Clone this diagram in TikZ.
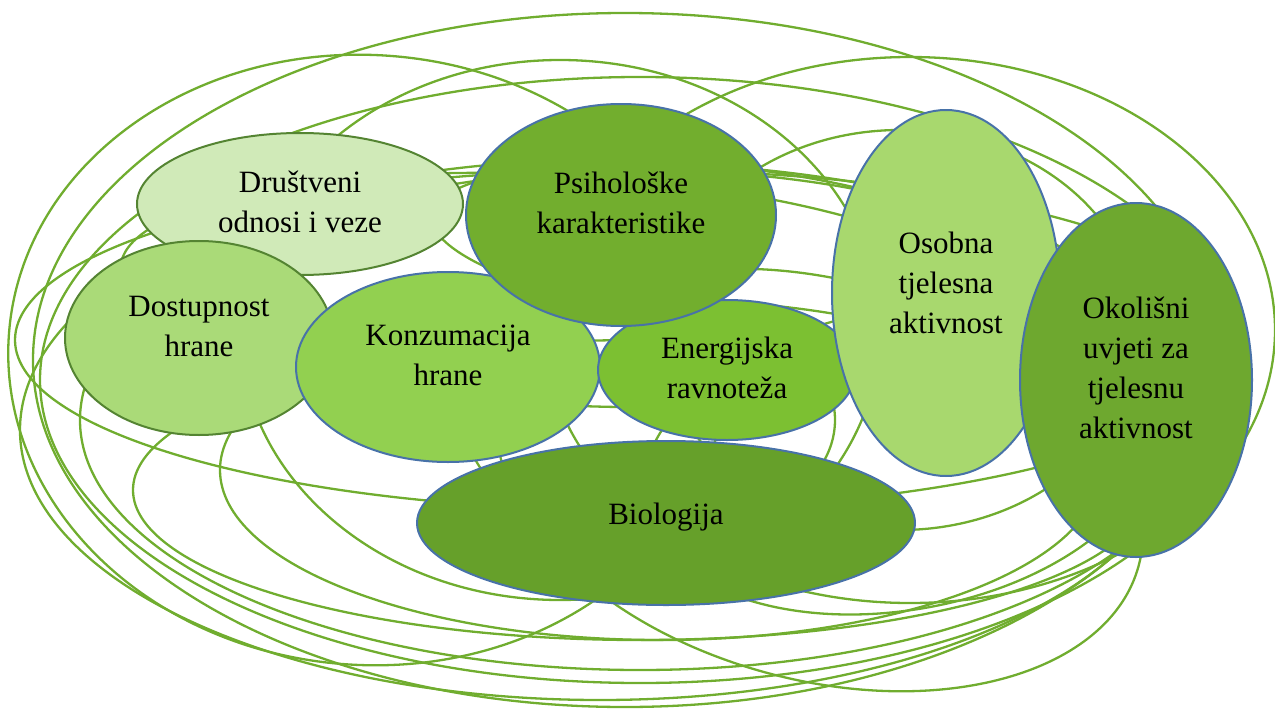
\documentclass[tikz,border=0pt]{standalone}
\usepackage{fontspec}
\setmainfont{Liberation Serif}
\usetikzlibrary{shapes.geometric}
\definecolor{ringgreen}{RGB}{112,173,47}
\definecolor{bluerim}{RGB}{72,114,168}
\definecolor{darkrim}{RGB}{84,132,50}
\definecolor{fillpale}{RGB}{208,234,184}
\definecolor{fillpsi}{RGB}{114,174,46}
\definecolor{filldos}{RGB}{170,218,120}
\definecolor{fillkon}{RGB}{146,208,80}
\definecolor{fillene}{RGB}{124,192,50}
\definecolor{fillos}{RGB}{168,216,110}
\definecolor{fillok}{RGB}{110,168,47}
\definecolor{fillbio}{RGB}{102,160,42}
% text stack, lifted a little above the shape centre
\newcommand{\blobtext}[2][0pt]{\raisebox{#1}[\height][\depth]{\begin{tabular}{@{}c@{}}#2\end{tabular}}}

\begin{document}
\begin{tikzpicture}[x=1pt,y=-1pt,
    ring/.style={draw=ringgreen, line width=2.3pt},
    blob/.style={ellipse, draw=bluerim, line width=2pt, inner sep=0pt,
        font=\fontsize{31}{40}\selectfont}]
    \useasboundingbox (0,0) rectangle (1275,712);
    % background rings
    \foreach \cx/\cy/\rx/\ry/\rot in {
        625/360/592/347/0, 367/360/359/305/-4, 910/330/365/273/0,
        640/380/600/303/0, 560/330/320/270/0, 630/340/615/170/0,
        640/490/507/150/0, 660/470/440/170/0, 640/420/560/250/0,
        600/430/580/270/0, 900/330/240/200/0, 560/290/440/115/-3,
        760/250/330/80/-6, 900/460/260/150/10, 650/420/185/120/0,
        820/480/330/200/-15} {
        \draw[ring] (\cx,\cy) ellipse [x radius=\rx pt, y radius=\ry pt, rotate=\rot];
    }
    % topic ellipses
    \node[blob, fill=fillpale, draw=darkrim, minimum width=326pt, minimum height=142pt]
        (drustveni) at (300,204) {\blobtext{Društveni\\odnosi i veze}};
    \node[blob, fill=filldos, draw=darkrim, minimum width=268pt, minimum height=194pt]
        (dostupnost) at (199,338) {\blobtext[10pt]{Dostupnost\\hrane}};
    \node[blob, fill=fillkon, minimum width=304pt, minimum height=190pt]
        (konzumacija) at (448,367) {\blobtext[10pt]{Konzumacija\\hrane}};
    \node[blob, fill=fillene, minimum width=258pt, minimum height=140pt]
        (energija) at (727,370) {\blobtext{Energijska\\ravnoteža}};
    \node[blob, fill=fillpsi, minimum width=310pt, minimum height=222pt]
        (psiholoske) at (621,215) {\blobtext[10pt]{Psihološke\\karakteristike}};
    \node[blob, fill=fillbio, minimum width=498pt, minimum height=164pt]
        (biologija) at (666,523) {\blobtext[7pt]{Biologija}};
    \node[blob, fill=fillos, minimum width=228pt, minimum height=366pt]
        (osobna) at (946,293) {\blobtext[8pt]{Osobna\\tjelesna\\aktivnost}};
    \node[blob, fill=fillok, minimum width=232pt, minimum height=354pt]
        (okolisni) at (1136,380) {\blobtext[10pt]{Okolišni\\uvjeti za\\tjelesnu\\aktivnost}};
\end{tikzpicture}
\end{document}
